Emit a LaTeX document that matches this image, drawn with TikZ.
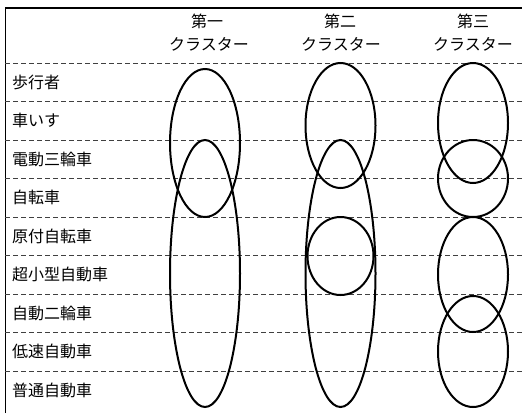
\documentclass[tikz,border=0pt]{standalone}
\usepackage{fontspec}
\newfontfamily\jpfont{Noto Sans CJK JP}
\begin{document}
\begin{tikzpicture}[x=1pt,y=-1pt,
  lbl/.style={font=\jpfont\fontsize{16}{18}\selectfont, inner sep=0pt, anchor=west},
  hdr/.style={font=\jpfont\fontsize{16}{18}\selectfont, inner sep=0pt},
  sep/.style={draw=black!75, line width=0.9pt, dash pattern=on 5pt off 3pt},
  frame/.style={draw=black, line width=1.3pt},
  grp/.style={draw=black, line width=2pt}]
\useasboundingbox (0,0) rectangle (522,413);
% frame
\draw[frame] (5.3,413) -- (5.3,8) -- (522,8);
% headers
\node[hdr] (h1a) at (207,21) {第一};
\node[hdr] (h1b) at (209,44) {クラスター};
\node[hdr] (h2a) at (340,21) {第二};
\node[hdr] (h2b) at (341,44) {クラスター};
\node[hdr] (h3a) at (473,21) {第三};
\node[hdr] (h3b) at (473,44) {クラスター};
% separators
\foreach \k in {0,...,8} {
  \draw[sep] (5.3,{63+38.5*\k}) -- (522,{63+38.5*\k});
}
% row labels
\node[lbl] (r1) at (12,82.25) {歩行者};
\node[lbl] (r2) at (12,120.75) {車いす};
\node[lbl] (r3) at (12,159.25) {電動三輪車};
\node[lbl] (r4) at (12,197.75) {自転車};
\node[lbl] (r5) at (12,236.25) {原付自転車};
\node[lbl] (r6) at (12,274.75) {超小型自動車};
\node[lbl] (r7) at (12,313.25) {自動二輪車};
\node[lbl] (r8) at (12,351.75) {低速自動車};
\node[lbl] (r9) at (12,390.25) {普通自動車};
% cluster 1
\draw[grp] (205,143) ellipse [x radius=35, y radius=74];
\draw[grp] (205,273.5) ellipse [x radius=35, y radius=133.5];
% cluster 2
\draw[grp] (340.5,125.5) ellipse [x radius=35, y radius=62.5];
\draw[grp] (340.5,273.5) ellipse [x radius=35, y radius=133.5];
\draw[grp] (340.5,256) ellipse [x radius=33, y radius=39];
% cluster 3
\draw[grp] (473,123) ellipse [x radius=35, y radius=60];
\draw[grp] (473,178.5) ellipse [x radius=35, y radius=38.5];
\draw[grp] (473,274.5) ellipse [x radius=35, y radius=57.5];
\draw[grp] (473,351.5) ellipse [x radius=35, y radius=55.5];
\end{tikzpicture}
\end{document}
